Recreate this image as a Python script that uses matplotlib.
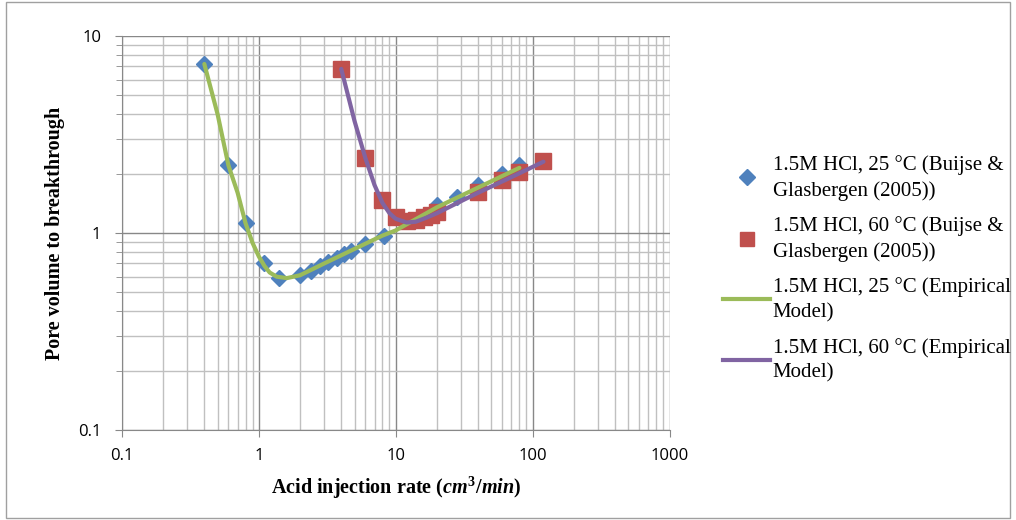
import matplotlib
matplotlib.use("Agg")
import matplotlib.pyplot as plt
from matplotlib.lines import Line2D

# Data
blue_x = [0.4, 0.6, 0.8, 1.1, 1.4, 2.0, 2.4, 2.8, 3.2, 3.7, 4.2, 4.7, 6.0, 8.2,
          20, 28, 40, 60, 80]
blue_y = [7.2, 2.2, 1.12, 0.70, 0.59, 0.61, 0.64, 0.68, 0.71, 0.75, 0.78, 0.81, 0.88, 0.96,
          1.39, 1.52, 1.75, 2.0, 2.2]

red_x = [4, 6, 8, 10, 12, 14, 16, 18, 20, 40, 60, 80, 120]
red_y = [6.8, 2.4, 1.47, 1.2, 1.15, 1.17, 1.2, 1.24, 1.28, 1.61, 1.86, 2.04, 2.32]

green_x = [0.4, 0.5, 0.6, 0.7, 0.8, 0.9, 1.0, 1.1, 1.2, 1.35, 1.6, 2.0, 3.0, 5.0, 8.0, 10, 20, 40, 80]
green_y = [7.2, 4.0, 2.2, 1.6, 1.12, 0.89, 0.76, 0.68, 0.63, 0.60, 0.59, 0.61, 0.70, 0.83, 0.97, 1.03, 1.35, 1.70, 2.14]

purple_x = [4, 5, 6, 7, 8, 9, 10, 12, 14, 17, 20, 30, 40, 70, 120]
purple_y = [6.8, 3.7, 2.4, 1.75, 1.42, 1.26, 1.18, 1.13, 1.14, 1.2, 1.26, 1.45, 1.6, 1.92, 2.3]

labels = ["1.5M HCl, 25 °C (Buijse &\nGlasbergen (2005))",
          "1.5M HCl, 60 °C (Buijse &\nGlasbergen (2005))",
          "1.5M HCl, 25 °C (Empirical\nModel)",
          "1.5M HCl, 60 °C (Empirical\nModel)"]

BLUE, RED, GREEN, PURPLE = "#4f81bd", "#c0504d", "#9bbb59", "#8064a2"

plt.rcParams["mathtext.fontset"] = "custom"
plt.rcParams["mathtext.it"] = "Liberation Serif:italic:bold"
plt.rcParams["mathtext.rm"] = "Liberation Serif:bold"
plt.rcParams["mathtext.bf"] = "Liberation Serif:bold"

fig = plt.figure(figsize=(10.16, 5.2), dpi=100)
fig.patch.set_facecolor("white")
# outer chart frame
fig.add_artist(plt.Rectangle((0.006, 0.004), 0.988, 0.992, transform=fig.transFigure,
                             fill=False, edgecolor="#a0a0a0", linewidth=1.0))

ax = fig.add_axes([0.120, 0.173, 0.539, 0.758])
ax.set_xscale("log")
ax.set_yscale("log")
ax.set_xlim(0.1, 1000)
ax.set_ylim(0.1, 10)

ax.grid(True, which="minor", color="#c0c0c0", linewidth=1.0)
ax.grid(True, which="major", color="#888888", linewidth=1.0)
ax.set_axisbelow(True)
for s in ax.spines.values():
    s.set_color("#888888")
ax.spines["top"].set_visible(False)
ax.spines["right"].set_visible(False)

ax.plot(blue_x, blue_y, linestyle="none", marker="D", markersize=8.5, color=BLUE, zorder=3)
ax.plot(red_x, red_y, linestyle="none", marker="s", markersize=11, color=RED, zorder=4)
ax.plot(green_x, green_y, color=GREEN, linewidth=3, zorder=5, solid_capstyle="round")
ax.plot(purple_x, purple_y, color=PURPLE, linewidth=3, zorder=6, solid_capstyle="round")

ax.set_xticks([0.1, 1, 10, 100, 1000])
ax.set_xticklabels(["0.1", "1", "10", "100", "1000"])
ax.set_yticks([0.1, 1, 10])
ax.set_yticklabels(["0.1", "1", "10"])
ax.tick_params(axis="both", which="major", labelsize=12, colors="#888888", labelcolor="black",
               length=5, direction="out")
ax.tick_params(axis="both", which="minor", length=0)
ax.tick_params(axis="y", which="minor", length=4, colors="#888888")
ax.tick_params(axis="x", which="major", pad=8)
ax.tick_params(axis="y", which="major", pad=10)
for t in ax.get_xticklabels() + ax.get_yticklabels():
    t.set_fontfamily("Open Sans")

ax.set_xlabel(r"Acid injection rate ($\mathit{cm}^{3}\mathit{/min}$)", fontfamily="Liberation Serif",
              fontweight="bold", fontsize=14.5, labelpad=8)
ax.set_ylabel("Pore volume to breakthrough", fontfamily="Liberation Serif",
              fontweight="bold", fontsize=14.5, labelpad=9)

handles = [Line2D([], [], linestyle="none", marker="D", markersize=8, color=BLUE),
           Line2D([], [], linestyle="none", marker="s", markersize=10, color=RED),
           Line2D([], [], color=GREEN, linewidth=3),
           Line2D([], [], color=PURPLE, linewidth=3)]
leg = fig.legend(handles, labels, loc="upper left", bbox_to_anchor=(0.703, 0.718),
                 frameon=False, prop={"family": "Liberation Serif", "size": 15},
                 handlelength=2.3, handletextpad=0.1, labelspacing=0.75, borderaxespad=0)
for t in leg.get_texts():
    t.set_linespacing(1.4)

fig.savefig("out.png", dpi=100)
